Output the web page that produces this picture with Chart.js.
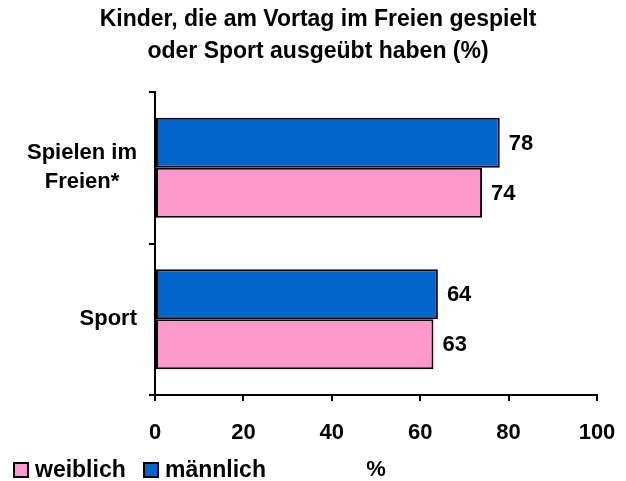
<!DOCTYPE html>
<html lang="de">
<head>
<meta charset="utf-8">
<title>Kinder, die am Vortag im Freien gespielt oder Sport ausgeübt haben</title>
<script src="https://cdn.jsdelivr.net/npm/chart.js@4/dist/chart.umd.min.js"></script>
<style>
  body { margin: 0; background: #fff; }
  #wrap { position: relative; width: 626px; height: 481px; }
  .legend { position: absolute; left: 13px; top: 456px; font: bold 23px "Liberation Sans", Arial, sans-serif; color: #000; }
  .legend span.item { position: absolute; white-space: nowrap; top: 0; line-height: 26px; }
  .legend i { display: inline-block; width: 12px; height: 12px; border: 2px solid #000; vertical-align: -1px; margin-right: 6px; }
</style>
</head>
<body>
<div id="wrap">
  <canvas id="kinderChart"></canvas>
  <div class="legend">
    <span class="item" style="left:0"><i style="background:#FF99CC"></i>weiblich</span>
    <span class="item" style="left:130px"><i style="background:#0066CC"></i>männlich</span>
  </div>
</div>
<script>
// Daten
const categories = [["Spielen im", "Freien*"], "Sport"];
const maennlich = [78, 64];
const weiblich = [74, 63];
const xTicks = [0, 20, 40, 60, 80, 100];

const FONT = "'Liberation Sans', Arial, sans-serif";
const PAD_LEFT = 39;

// Werte neben den Balken
const valueLabels = {
  id: "valueLabels",
  afterDatasetsDraw(chart) {
    const ctx = chart.ctx;
    ctx.save();
    ctx.font = "bold 22px " + FONT;
    ctx.fillStyle = "#000";
    ctx.textAlign = "left";
    ctx.textBaseline = "middle";
    chart.data.datasets.forEach(function (ds, i) {
      chart.getDatasetMeta(i).data.forEach(function (bar, j) {
        ctx.fillText(ds.data[j], bar.x + 9, bar.y + 1);
      });
    });
    ctx.restore();
  }
};

// Kategorien links, Zeilen zentriert, Block rechtsbündig
const catLabels = {
  id: "catLabels",
  afterDraw(chart) {
    const ctx = chart.ctx;
    const scale = chart.scales.y;
    ctx.save();
    ctx.font = "bold 22px " + FONT;
    ctx.fillStyle = "#000";
    ctx.textAlign = "center";
    ctx.textBaseline = "middle";
    const right = chart.chartArea.left - 18;
    const lh = 29;
    categories.forEach(function (c, i) {
      const lines = Array.isArray(c) ? c : [c];
      const w = Math.max.apply(null, lines.map(function (l) { return ctx.measureText(l).width; }));
      const cx = right - w / 2;
      const y0 = scale.getPixelForTick(i) - (lines.length - 1) * lh / 2;
      lines.forEach(function (l, k) {
        ctx.fillText(l, cx, y0 + k * lh);
      });
    });
    ctx.restore();
  }
};

new Chart(document.getElementById("kinderChart"), {
  type: "bar",
  data: {
    labels: categories,
    datasets: [
      {
        label: "männlich",
        data: maennlich,
        backgroundColor: "#0066CC",
        borderColor: "#000",
        borderWidth: 2,
        borderSkipped: false
      },
      {
        label: "weiblich",
        data: weiblich,
        backgroundColor: "#FF99CC",
        borderColor: "#000",
        borderWidth: 2,
        borderSkipped: false
      }
    ]
  },
  options: {
    indexAxis: "y",
    responsive: true,
    maintainAspectRatio: false,
    animation: false,
    categoryPercentage: 0.66,
    barPercentage: 1,
    layout: { padding: { left: PAD_LEFT, right: 29, top: 0, bottom: 0 } },
    plugins: {
      legend: { display: false },
      tooltip: { enabled: false },
      title: {
        display: true,
        text: ["Kinder, die am Vortag im Freien gespielt", "oder Sport ausgeübt haben (%)"],
        color: "#000",
        font: { family: FONT, size: 23, weight: "bold", lineHeight: 32 / 23 },
        padding: { top: 4, bottom: 24 }
      }
    },
    scales: {
      x: {
        min: 0,
        max: 100,
        afterBuildTicks: function (scale) {
          scale.ticks = xTicks.map(function (v) { return { value: v }; });
        },
        afterFit: function (scale) {
          scale.height = 86;
          scale.paddingLeft = 0;
          scale.paddingRight = 0;
        },
        grid: { drawOnChartArea: false, color: "#000", lineWidth: 2, tickLength: 6 },
        border: { color: "#000", width: 2 },
        ticks: {
          color: "#000",
          padding: 19,
          font: { family: FONT, size: 22, weight: "bold" }
        },
        title: {
          display: true,
          text: "%",
          color: "#000",
          font: { family: FONT, size: 22, weight: "bold", lineHeight: 1 },
          padding: { top: 0, bottom: 0 }
        }
      },
      y: {
        offset: true,
        afterFit: function (scale) { scale.width = 155 - PAD_LEFT; },
        grid: { drawOnChartArea: false, offset: true, color: "#000", lineWidth: 2, tickLength: 6 },
        border: { color: "#000", width: 2 },
        ticks: { display: false }
      }
    }
  },
  plugins: [valueLabels, catLabels]
});
</script>
</body>
</html>
